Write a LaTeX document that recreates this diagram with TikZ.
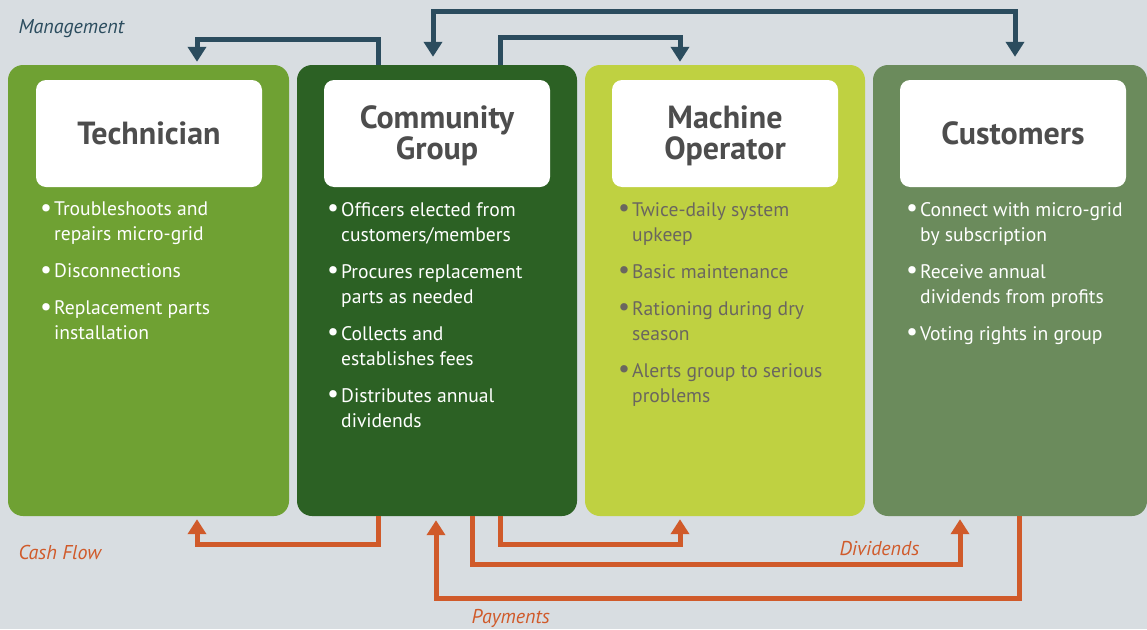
\documentclass[tikz,border=0pt]{standalone}
\usepackage{fontspec}
\setmainfont{PT Sans}
\usetikzlibrary{arrows.meta,positioning}

\definecolor{bgc}{HTML}{D8DDE1}
\definecolor{techc}{HTML}{6FA133}
\definecolor{groupc}{HTML}{2C6124}
\definecolor{operc}{HTML}{BFD141}
\definecolor{custc}{HTML}{6B8B5C}
\definecolor{titlec}{HTML}{4D4D4D}
\definecolor{greyc}{HTML}{6A665F}
\definecolor{mgmtc}{HTML}{2B4C5E}
\definecolor{cashc}{HTML}{D05A2A}

% bullet and hanging indent for the lists
\newcommand{\bul}{\makebox[14pt][l]{\raisebox{-0.6pt}{\scalebox{1.35}{\textbullet}}}}
\newcommand{\hang}{\hspace*{14pt}}

\tikzset{
  column/.style={rectangle, rounded corners=15pt, minimum width=280pt, minimum height=451pt, inner sep=0pt},
  titlebox/.style={rectangle, rounded corners=10pt, fill=white, minimum width=226pt, minimum height=107pt, align=center, text=titlec, font=\fontsize{32}{31}\selectfont\bfseries},
  items/.style={anchor=north west, inner sep=0pt, align=left, font=\fontsize{19.6}{25}\selectfont},
  mgmt/.style={draw=mgmtc, line width=5pt, -{Triangle[width=18pt,length=15pt]}},
  cash/.style={draw=cashc, line width=5pt, -{Triangle[width=18pt,length=15pt]}},
  lbl/.style={anchor=west, font=\fontsize{20}{22}\selectfont\itshape}
}

\begin{document}
\begin{tikzpicture}[x=1pt, y=-1pt]
    \fill[bgc] (0,0) rectangle (1147,629);
    \useasboundingbox (0,0) rectangle (1147,629);

    % columns
    \node[column, fill=techc, minimum width=281pt] (tech) at (148.5,290.5) {};
    \node[column, fill=groupc] (group) at (437,290.5) {};
    \node[column, fill=operc] (operator) at (725,290.5) {};
    \node[column, fill=custc, minimum width=274pt] (customers) at (1010,290.5) {};

    \node[titlebox] (techtitle) at (149,133.5) {Technician};
    \node[titlebox, text depth=2pt] (grouptitle) at (437,133.5) {Community\\Group};
    \node[titlebox, text depth=2pt] (opertitle) at (725,133.5) {Machine\\Operator};
    \node[titlebox] (custtitle) at (1013,133.5) {Customers};

    \node[items, text=white] (techlist) at (40,202) {%
        \bul Troubleshoots and\\\hang repairs micro-grid\\[12pt]
        \bul Disconnections\\[12pt]
        \bul Replacement parts\\\hang installation};
    \node[items, text=white] (grouplist) at (327,202) {%
        \bul Officers elected from\\\hang customers/members\\[12pt]
        \bul Procures replacement\\\hang parts as needed\\[12pt]
        \bul Collects and\\\hang establishes fees\\[12pt]
        \bul Distributes annual\\\hang dividends};
    \node[items, text=greyc] (operlist) at (618,202) {%
        \bul Twice-daily system\\\hang upkeep\\[12pt]
        \bul Basic maintenance\\[12pt]
        \bul Rationing during dry\\\hang season\\[12pt]
        \bul Alerts group to serious\\\hang problems};
    \node[items, text=white] (custlist) at (906,202) {%
        \bul Connect with micro-grid\\\hang by subscription\\[12pt]
        \bul Receive annual\\\hang dividends from profits\\[12pt]
        \bul Voting rights in group};

    % management
    \draw[mgmt] ([xshift=-59pt]group.north) -- ++(0,-25) -| ([xshift=48.5pt,yshift=3pt]tech.north);
    \draw[mgmt] ([xshift=63pt]group.north) -- ++(0,-27) -| ([xshift=-45pt,yshift=3pt]operator.north);
    \draw[mgmt, {Triangle[width=18pt,length=15pt]}-{Triangle[width=18pt,length=15pt]}] ([xshift=-4pt,yshift=8pt]group.north) -- ++(0,-45) -| ([xshift=5pt,yshift=8pt]customers.north);

    % cash flow
    \draw[cash] ([xshift=-59pt]group.south) -- ++(0,28) -| ([xshift=48.5pt,yshift=-3pt]tech.south);
    \draw[cash] ([xshift=63pt]group.south) -- ++(0,28) -| ([xshift=-45pt,yshift=-3pt]operator.south);
    \draw[cash] ([xshift=35pt]group.south) -- ++(0,48) -| ([xshift=-50pt,yshift=-3pt]customers.south);
    \draw[cash] ([xshift=9pt]customers.south) -- ++(0,82) -| ([xshift=-1pt,yshift=-4pt]group.south);

    \node[lbl, text=mgmtc] (mgmtlabel) at (15,29) {Management};
    \node[lbl, text=cashc] (cashlabel) at (15,552) {Cash Flow};
    \node[lbl, text=cashc] (divlabel) at (836,549) {Dividends};
    \node[lbl, text=cashc] (paylabel) at (468,618) {Payments};
\end{tikzpicture}
\end{document}
